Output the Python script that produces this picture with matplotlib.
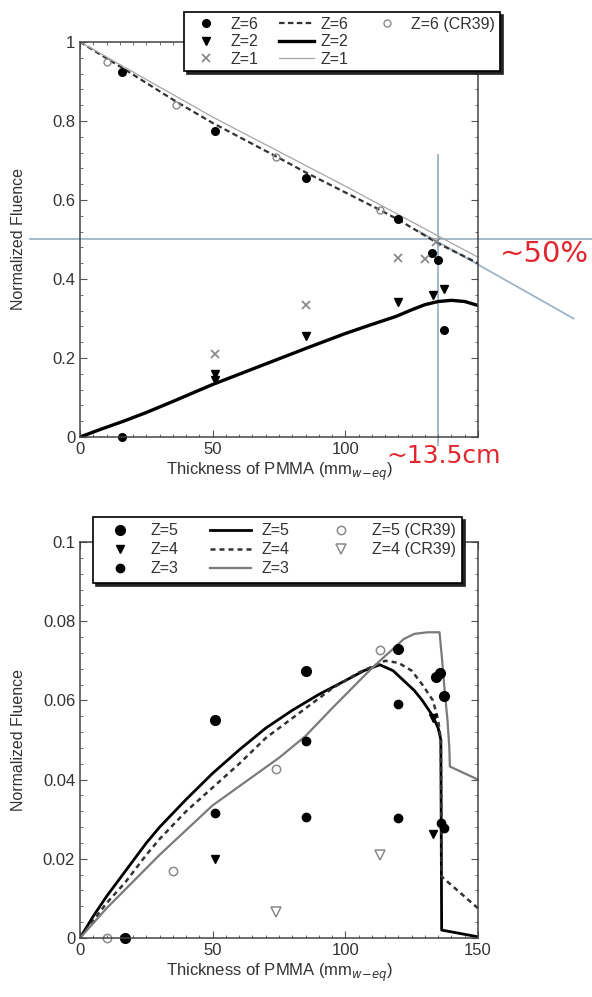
import numpy as np
import matplotlib.pyplot as plt
from matplotlib.lines import Line2D
from matplotlib.ticker import MultipleLocator, FuncFormatter

plt.rcParams['font.family'] = ['Liberation Sans', 'DejaVu Sans']

# ---- top panel data (Z=6, 2, 1) ----
z6_x = [16, 51, 85, 120, 132.5, 135, 137, 16]
z6_y = [0.925, 0.775, 0.655, 0.552, 0.465, 0.448, 0.272, 0.0]
z2_x = [51, 51, 85, 120, 133, 137]
z2_y = [0.16, 0.145, 0.256, 0.343, 0.36, 0.375]
z1_x = [51, 85, 120, 130, 134]
z1_y = [0.21, 0.334, 0.453, 0.45, 0.494]
z6cr_x = [10, 36, 74, 113]
z6cr_y = [0.95, 0.84, 0.71, 0.575]

z6_line_x = [0, 17, 36, 50, 74, 85, 113, 120, 135, 150]
z6_line_y = [1.0, 0.93, 0.85, 0.795, 0.71, 0.67, 0.575, 0.55, 0.49, 0.44]
z2_line_x = [0, 8, 16, 25, 35, 50, 65, 85, 100, 110, 119, 125, 130, 135, 140, 145, 150]
z2_line_y = [0.0, 0.02, 0.039, 0.062, 0.09, 0.133, 0.172, 0.224, 0.262, 0.285, 0.305,
             0.322, 0.335, 0.343, 0.346, 0.343, 0.333]
z1_line_x = [0, 50, 100, 150]
z1_line_y = [1.0, 0.81, 0.635, 0.455]

# ---- bottom panel data (Z=5, 4, 3) ----
z5_x = [17, 51, 85, 120, 134, 135.5, 137]
z5_y = [0.0, 0.055, 0.0675, 0.073, 0.066, 0.067, 0.061]
z4_x = [51, 133, 133]
z4_y = [0.02, 0.0263, 0.0555]
z3_x = [51, 85, 85, 120, 120, 136, 137]
z3_y = [0.0316, 0.0305, 0.0498, 0.0302, 0.0591, 0.029, 0.0277]
z5cr_x = [10, 35, 74, 113]
z5cr_y = [0.0, 0.0168, 0.0426, 0.0727]
z4cr_x = [74, 113]
z4cr_y = [0.0066, 0.021]

z5_line_x = [0, 5, 10, 17, 25, 30, 40, 50, 60, 70, 80, 90, 100, 107, 113, 118, 122,
             126, 129, 131, 133, 135, 136, 136.3, 150]
z5_line_y = [0.0, 0.0055, 0.0105, 0.0168, 0.024, 0.028, 0.035, 0.0416, 0.0475, 0.053,
             0.0575, 0.0615, 0.065, 0.0675, 0.069, 0.0675, 0.065, 0.0625, 0.060, 0.058,
             0.056, 0.053, 0.050, 0.002, 0.0003]
z4_line_x = [0, 10, 17, 25, 30, 40, 50, 60, 70, 85, 95, 105, 115, 120, 125, 129, 133,
             135, 136, 136.3, 150]
z4_line_y = [0.0, 0.0088, 0.014, 0.021, 0.025, 0.032, 0.038, 0.044, 0.0505, 0.058,
             0.063, 0.067, 0.070, 0.0695, 0.0675, 0.064, 0.060, 0.055, 0.050, 0.0155,
             0.0075]
z3_line_x = [0, 10, 30, 50, 75, 85, 95, 108, 113, 118, 122, 126, 131, 135.5, 136.5,
             137.5, 138.5, 139.2, 139.4, 150]
z3_line_y = [0.0, 0.0075, 0.021, 0.0335, 0.0455, 0.051, 0.058, 0.0668, 0.070, 0.073,
             0.0755, 0.0768, 0.0772, 0.0772, 0.070, 0.062, 0.055, 0.048, 0.0433, 0.040]

grey = '#8a8a8a'
blue = '#9fb4c8'
red = '#e0262e'

fig = plt.figure(figsize=(5.92, 9.97), dpi=100)
ax1 = fig.add_axes([80 / 592, 1 - 437 / 997, 398 / 592, 395 / 997])
ax2 = fig.add_axes([80 / 592, 1 - 938 / 997, 398 / 592, 396 / 997])


def ticklab(v, pos):
    return '%g' % v


def top_xlab(v, pos):
    # the 150 label is covered by the red annotation in the original
    return '' if v >= 150 else '%g' % v


def style(ax, ymax, ymaj):
    ax.set_xlim(0, 150)
    ax.set_ylim(0, ymax)
    ax.xaxis.set_major_locator(MultipleLocator(50))
    ax.xaxis.set_minor_locator(MultipleLocator(5))
    ax.yaxis.set_major_locator(MultipleLocator(ymaj))
    ax.yaxis.set_minor_locator(MultipleLocator(ymaj / 5))
    ax.xaxis.set_major_formatter(FuncFormatter(ticklab))
    ax.yaxis.set_major_formatter(FuncFormatter(ticklab))
    ax.tick_params(which='both', direction='in', top=True, right=True,
                   colors='#555555', labelcolor='#333333', labelsize=12)
    ax.tick_params(which='major', length=5)
    ax.tick_params(which='minor', length=2.5)
    for s in ax.spines.values():
        s.set_color('#444444')
        s.set_linewidth(1.1)
    ax.set_ylabel('Normalized Fluence', fontsize=11.5, color='#333333')
    ax.set_xlabel('Thickness of PMMA (mm$_{w\\mathrm{-}eq}$)', fontsize=12,
                  color='#333333', labelpad=3)
    ax.yaxis.set_label_coords(-0.136, 0.5)


style(ax1, 1.0, 0.2)
style(ax2, 0.1, 0.02)
ax1.xaxis.set_major_formatter(FuncFormatter(top_xlab))

# top panel
l6, = ax1.plot(z6_line_x, z6_line_y, ls=(0, (2.5, 1.5)), color='#333333', lw=1.6)
l1, = ax1.plot(z1_line_x, z1_line_y, color='#a5a5a5', lw=0.9)
l2, = ax1.plot(z2_line_x, z2_line_y, color='black', lw=2.4)
p6, = ax1.plot(z6_x, z6_y, 'o', color='black', ms=5.5, clip_on=False)
p2, = ax1.plot(z2_x, z2_y, 'v', color='black', ms=5.5)
p1, = ax1.plot(z1_x, z1_y, 'x', color=grey, ms=5.5, mew=1.3)
pc6, = ax1.plot(z6cr_x, z6cr_y, 'o', mfc='none', mec=grey, ms=5, mew=1)

# annotations
ax1.plot([-19, 193], [0.5, 0.5], color=blue, lw=1.3, clip_on=False, zorder=1)
ax1.plot([135, 135], [-0.02, 0.714], color=blue, lw=1.3, clip_on=False, zorder=1)
ax1.plot([128, 186], [0.52, 0.30], color=blue, lw=1.3, clip_on=False, zorder=1)
ax1.text(175, 0.463, '~50%', color=red, fontsize=21, family='DejaVu Sans',
         ha='center', va='center', clip_on=False)
ax1.text(137, -0.048, '~13.5cm', color=red, fontsize=18, family='DejaVu Sans',
         ha='center', va='center', clip_on=False, zorder=5)

blank = Line2D([], [], ls='none')
leg1 = ax1.legend([p6, p2, p1, l6, l2, l1, pc6, blank, blank],
                  ['Z=6', 'Z=2', 'Z=1', 'Z=6', 'Z=2', 'Z=1', 'Z=6 (CR39)', '', ''],
                  ncol=3, loc='upper left', mode='expand',
                  bbox_to_anchor=(184 / 592, 1 - 87 / 997, 316 / 592, 75 / 997),
                  bbox_transform=fig.transFigure, fontsize=11.5, fancybox=False,
                  shadow={'color': '#222222', 'alpha': 1}, edgecolor='black',
                  framealpha=1, borderpad=0.3, labelspacing=0.15, handlelength=2.2,
                  handletextpad=0.4, columnspacing=0.6, borderaxespad=0)
leg1.get_frame().set_linewidth(1.2)
for t in leg1.get_texts():
    t.set_color('#333333')

# bottom panel
m5, = ax2.plot(z5_line_x, z5_line_y, color='black', lw=2.0)
m4, = ax2.plot(z4_line_x, z4_line_y, ls=(0, (2, 1.6)), color='#333333', lw=1.8)
m3, = ax2.plot(z3_line_x, z3_line_y, color='#7a7a7a', lw=1.6)
q5, = ax2.plot(z5_x, z5_y, 'o', color='black', ms=7, clip_on=False)
q4, = ax2.plot(z4_x, z4_y, 'v', color='black', ms=5.5)
q3, = ax2.plot(z3_x, z3_y, 'o', color='black', ms=6)
qc5, = ax2.plot(z5cr_x, z5cr_y, 'o', mfc='none', mec=grey, ms=6, mew=1.1, clip_on=False)
qc4, = ax2.plot(z4cr_x, z4cr_y, 'v', mfc='none', mec=grey, ms=6.5, mew=1.1)

leg2 = ax2.legend([q5, q4, q3, m5, m4, m3, qc5, qc4, blank],
                  ['Z=5', 'Z=4', 'Z=3', 'Z=5', 'Z=4', 'Z=3', 'Z=5 (CR39)', 'Z=4 (CR39)', ''],
                  ncol=3, loc='upper left', mode='expand',
                  bbox_to_anchor=(93 / 592, 1 - 602 / 997, 369 / 592, 85 / 997),
                  bbox_transform=fig.transFigure, fontsize=11.5, fancybox=False,
                  shadow={'color': '#222222', 'alpha': 1}, edgecolor='black',
                  framealpha=1, borderpad=0.4, labelspacing=0.25, handlelength=2.6,
                  handletextpad=0.6, columnspacing=1.0, borderaxespad=0)
leg2.get_frame().set_linewidth(1.2)
for t in leg2.get_texts():
    t.set_color('#333333')

fig.savefig('out.png', dpi=100)
